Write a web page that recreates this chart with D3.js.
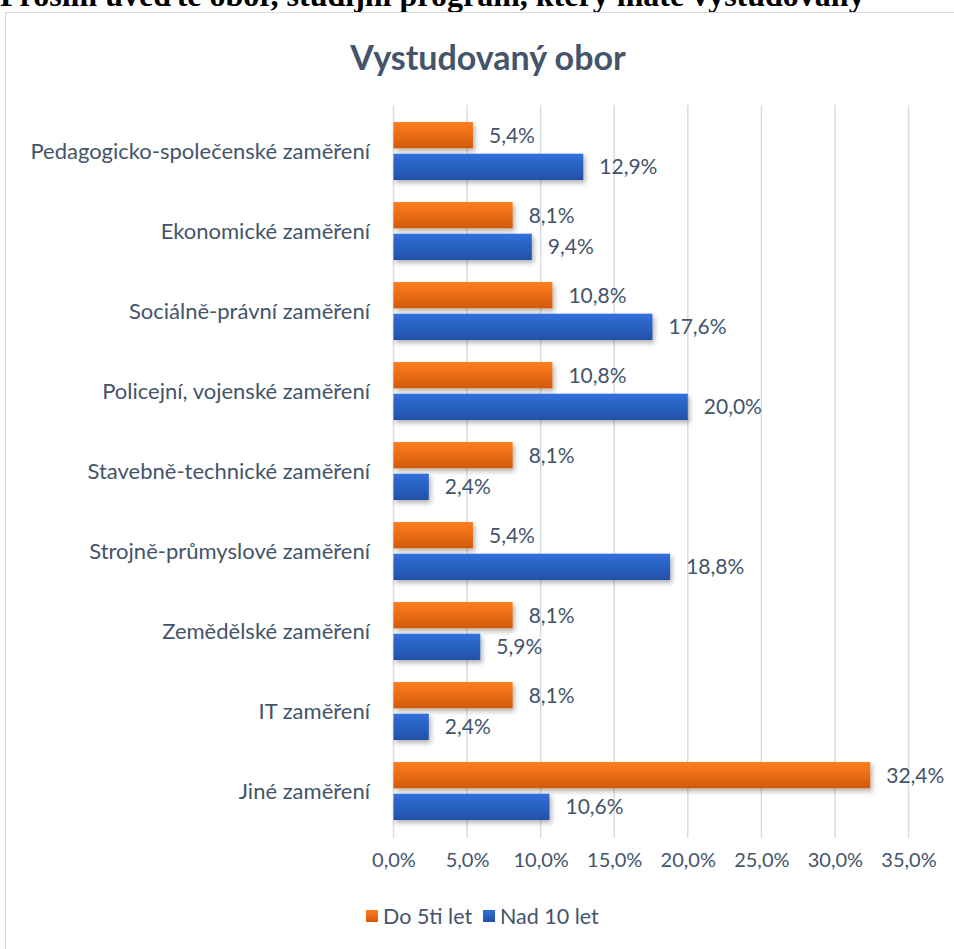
<!DOCTYPE html>
<html lang="cs">
<head>
<meta charset="utf-8">
<title>Vystudovaný obor</title>
<script src="https://d3js.org/d3.v7.min.js"></script>
<style>
  body { margin: 0; background: #fff; }
  text { font-family: Lato, "Open Sans", sans-serif; }
  .heading { font-family: "Liberation Serif", serif; font-weight: bold; font-size: 32px; fill: #000; }
  .title { font-size: 34px; font-weight: bold; fill: #44546a; }
  .cat { font-size: 22px; fill: #44546a; }
  .val { font-size: 21px; fill: #44546a; }
  .tick text { font-size: 20px; fill: #44546a; font-family: Lato, sans-serif; }
  .legend text { font-size: 21.5px; fill: #44546a; }
</style>
</head>
<body>
<script>
var categories = ["Pedagogicko-společenské zaměření", "Ekonomické zaměření", "Sociálně-právní zaměření",
  "Policejní, vojenské zaměření", "Stavebně-technické zaměření", "Strojně-průmyslové zaměření",
  "Zemědělské zaměření", "IT zaměření", "Jiné zaměření"];
var do5 = [5.4, 8.1, 10.8, 10.8, 8.1, 5.4, 8.1, 8.1, 32.4];
var nad10 = [12.9, 9.4, 17.6, 20.0, 2.4, 18.8, 5.9, 2.4, 10.6];
var series = ["Do 5ti let", "Nad 10 let"];
var ticks = [0, 5, 10, 15, 20, 25, 30, 35];

var W = 954, H = 949;
var svg = d3.select("body").append("svg").attr("width", W).attr("height", H);

var defs = svg.append("defs");
var grads = [["gOr", "#ff7f1f", "#d2580b"], ["gBl", "#3171db", "#2350a6"]];
grads.forEach(function(g) {
  var lg = defs.append("linearGradient").attr("id", g[0]).attr("x1", 0).attr("y1", 0).attr("x2", 0).attr("y2", 1);
  lg.append("stop").attr("offset", "0%").attr("stop-color", g[1]);
  lg.append("stop").attr("offset", "100%").attr("stop-color", g[2]);
});
var f = defs.append("filter").attr("id", "sh").attr("x", "-10%").attr("y", "-30%").attr("width", "130%").attr("height", "180%");
f.append("feDropShadow").attr("dx", 2).attr("dy", 3).attr("stdDeviation", 2.5).attr("flood-color", "#000").attr("flood-opacity", 0.3);

// question heading, cut off by the top edge as in the scan
svg.append("text").attr("class", "heading").attr("x", 0).attr("y", 6)
  .text("Prosím uveďte obor, studijní program, který máte vystudovaný");

// chart frame
svg.append("rect").attr("x", 5.5).attr("y", 12.5).attr("width", 980).attr("height", 980)
  .attr("fill", "#fff").attr("stroke", "#d9d9d9");

svg.append("text").attr("class", "title").attr("x", 488).attr("y", 70).attr("text-anchor", "middle")
  .text("Vystudovaný obor");

var x = d3.scaleLinear().domain([0, 35]).range([393.5, 908.5]);
var y = d3.scaleBand().domain(categories).range([111, 831]).paddingInner(0.275).paddingOuter(0.1375);
var y2 = d3.scaleBand().domain(series).range([0, y.bandwidth()]).paddingInner(0.17);

// gridlines
svg.append("g").selectAll("line").data(ticks).join("line")
  .attr("x1", function(d) { return x(d); }).attr("x2", function(d) { return x(d); })
  .attr("y1", 105).attr("y2", 838)
  .attr("stroke", "#d9dde3").attr("stroke-width", 1.5);

var xAxis = svg.append("g").attr("transform", "translate(0,838)")
  .call(d3.axisBottom(x).tickValues(ticks).tickSize(0).tickPadding(15)
    .tickFormat(function(d) { return d3.format(".1f")(d).replace(".", ",") + "%"; }));
xAxis.select(".domain").remove();

var cols = ["url(#gOr)", "url(#gBl)"];
var rows = categories.map(function(c, i) { return { cat: c, vals: [do5[i], nad10[i]] }; });

var g = svg.append("g").selectAll("g").data(rows).join("g")
  .attr("transform", function(d) { return "translate(0," + y(d.cat) + ")"; });

g.selectAll("rect").data(function(d) { return d.vals; }).join("rect")
  .attr("x", x(0))
  .attr("y", function(d, i) { return y2(series[i]); })
  .attr("width", function(d) { return x(d) - x(0); })
  .attr("height", y2.bandwidth())
  .attr("fill", function(d, i) { return cols[i]; })
  .attr("filter", "url(#sh)");

g.selectAll("text.val").data(function(d) { return d.vals; }).join("text")
  .attr("class", "val")
  .attr("x", function(d) { return x(d) + 16; })
  .attr("y", function(d, i) { return y2(series[i]) + y2.bandwidth() / 2; })
  .attr("dy", "0.35em")
  .text(function(d) { return d3.format(".1f")(d).replace(".", ",") + "%"; });

g.append("text").attr("class", "cat")
  .attr("x", 370).attr("y", y.bandwidth() / 2).attr("dy", "0.35em").attr("text-anchor", "end")
  .text(function(d) { return d.cat; });

// legend
var legendX = [366, 483];
var lg = svg.append("g").attr("class", "legend").selectAll("g").data(series).join("g")
  .attr("transform", function(d, i) { return "translate(" + legendX[i] + ",916)"; });
lg.append("rect").attr("x", 0).attr("y", -6).attr("width", 12).attr("height", 12)
  .attr("fill", function(d, i) { return cols[i]; });
lg.append("text").attr("x", 17).attr("y", 0).attr("dy", "0.35em").text(function(d) { return d; });
</script>
</body>
</html>
